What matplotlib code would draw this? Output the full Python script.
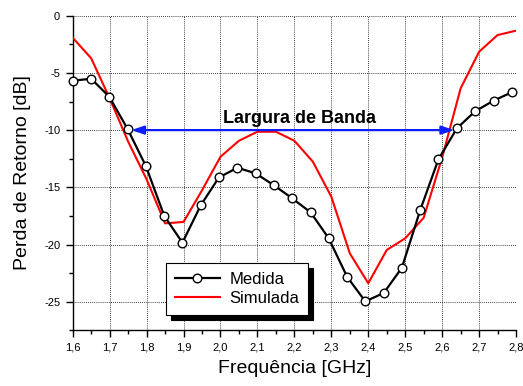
import matplotlib
matplotlib.use('Agg')
import matplotlib.pyplot as plt
from matplotlib.ticker import MultipleLocator, FuncFormatter
from matplotlib.patches import Shadow

# Medida (pontos medidos)
freq_med = [1.600, 1.650, 1.699, 1.749, 1.798, 1.848, 1.897, 1.947, 1.996,
            2.046, 2.095, 2.145, 2.194, 2.244, 2.293, 2.343, 2.392, 2.442,
            2.491, 2.541, 2.590, 2.640, 2.689, 2.739, 2.788]
s11_med = [-5.68, -5.51, -7.08, -9.93, -13.14, -17.51, -19.84, -16.55, -14.13,
           -13.29, -13.78, -14.83, -15.96, -17.19, -19.46, -22.84, -24.97, -24.24,
           -22.03, -16.96, -12.55, -9.84, -8.36, -7.43, -6.70]

# Simulada
freq_sim = [1.60, 1.65, 1.70, 1.75, 1.80, 1.85, 1.90, 1.95, 2.00, 2.05, 2.10,
            2.15, 2.20, 2.25, 2.30, 2.35, 2.40, 2.45, 2.50, 2.55, 2.60, 2.65,
            2.70, 2.75, 2.80]
s11_sim = [-1.92, -3.72, -7.22, -11.0, -14.3, -18.15, -18.03, -15.26, -12.33,
           -10.93, -10.14, -10.14, -10.93, -12.76, -15.82, -20.77, -23.39, -20.48,
           -19.46, -17.66, -12.4, -6.35, -3.15, -1.69, -1.31]

# largura de banda (seta)
banda_ini, banda_fim, banda_nivel = 1.758, 2.633, -10.0

plt.rcParams['font.family'] = ['Liberation Sans', 'DejaVu Sans']

fig = plt.figure(figsize=(5.23, 3.86), dpi=100)
ax = fig.add_axes([0.139, 0.1443, 0.8477, 0.815])

ax.plot(freq_sim, s11_sim, color='red', linewidth=1.5, label='Simulada', zorder=3)
ax.plot(freq_med, s11_med, color='black', linewidth=1.6, marker='o',
        markersize=6.2, markerfacecolor='white', markeredgecolor='black',
        markeredgewidth=1.0, label='Medida', zorder=4, clip_on=False)

ax.annotate('', xy=(banda_ini, banda_nivel), xytext=(banda_fim, banda_nivel),
            arrowprops=dict(arrowstyle='<|-|>,head_length=0.75,head_width=0.25',
                            color='#0a1eff', lw=1.6, shrinkA=0, shrinkB=0),
            zorder=5)
ax.text(2.214, -9.4, 'Largura de Banda', fontsize=13, fontweight='bold',
        ha='center', va='baseline', zorder=6)

ax.set_xlim(1.6, 2.8)
ax.set_ylim(-27.5, 0)
ax.xaxis.set_major_locator(MultipleLocator(0.1))
ax.xaxis.set_minor_locator(MultipleLocator(0.05))
ax.yaxis.set_major_locator(MultipleLocator(5))
ax.yaxis.set_minor_locator(MultipleLocator(2.5))
ax.xaxis.set_major_formatter(FuncFormatter(lambda v, p: f'{v:.1f}'.replace('.', ',')))
ax.yaxis.set_major_formatter(FuncFormatter(lambda v, p: f'{v:.0f}'))

ax.tick_params(which='major', direction='out', length=5, width=1, labelsize=8, pad=4)
ax.tick_params(which='minor', direction='out', length=3, width=1)

for side in ['top', 'right']:
    ax.spines[side].set_visible(False)
for side in ['left', 'bottom']:
    ax.spines[side].set_linewidth(1.0)

ax.set_axisbelow(True)
ax.grid(True, which='major', color='black', linestyle=(0, (1, 1.5)), linewidth=0.6)

ax.set_xlabel('Frequência [GHz]', fontsize=14)
ax.set_ylabel('Perda de Retorno [dB]', fontsize=14)
ax.xaxis.set_label_coords(0.501, -0.093)
ax.yaxis.set_label_coords(-0.094, 0.5)

handles, labels = ax.get_legend_handles_labels()
leg = ax.legend(handles[::-1], labels[::-1], loc='center',
                bbox_to_anchor=(0.3706, 0.131), fontsize=12, frameon=True,
                fancybox=False, framealpha=1, edgecolor='black',
                borderpad=0.55, handlelength=2.7, handletextpad=0.55,
                labelspacing=0.22, borderaxespad=0)
leg.get_frame().set_linewidth(0.8)
leg.set_zorder(10)

fig.canvas.draw()
sombra = Shadow(leg.legendPatch, 3.6, -3.6, facecolor='black', edgecolor='black', alpha=1)
sombra.set_zorder(9)
sombra.set_clip_on(False)
ax.add_artist(sombra)

fig.savefig('out.png', dpi=100)
